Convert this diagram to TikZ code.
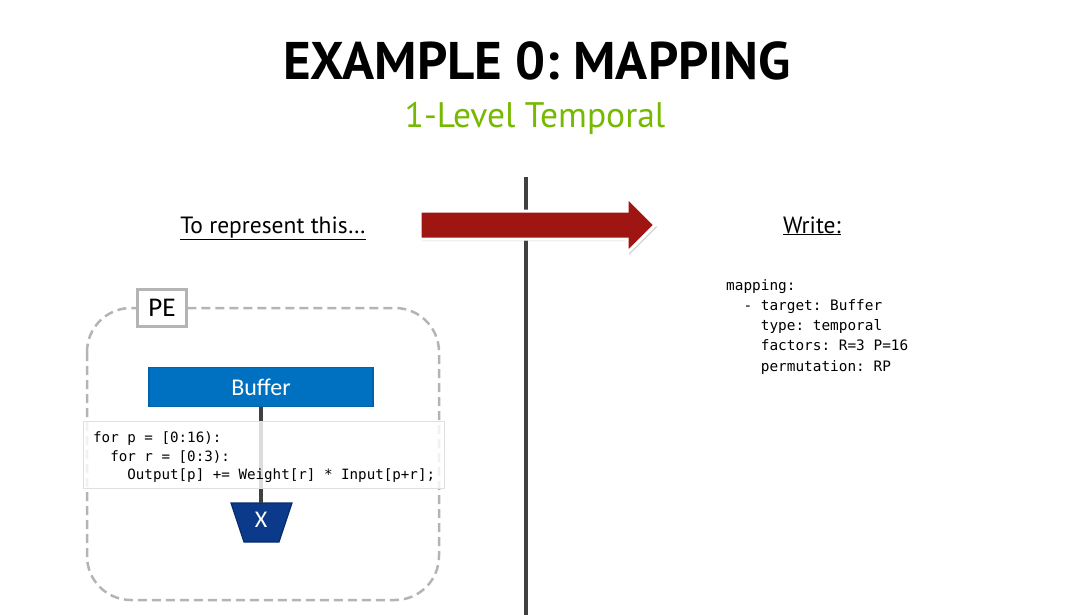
\documentclass[tikz,border=0pt]{standalone}
\usepackage{fontspec}
\setmainfont{PT Sans}
\newfontfamily\calfont{Carlito}
\newfontfamily\codefont{DejaVu Sans Mono}
\usetikzlibrary{shadows}
\frenchspacing
\definecolor{nvgreen}{HTML}{76B900}
\definecolor{arrowred}{HTML}{9E1512}
\definecolor{bufblue}{HTML}{0070C0}
\definecolor{bufedge}{HTML}{0062A8}
\definecolor{xblue}{HTML}{0B3A8A}
\definecolor{xedge}{HTML}{082C6A}
\definecolor{dashgray}{HTML}{B4B4B4}
\definecolor{linegray}{HTML}{404040}
\tikzset{
  codeline/.style={anchor=base west, inner sep=0pt, font=\codefont\fontsize{14.2}{18}\selectfont},
  rcodeline/.style={anchor=base west, inner sep=0pt, font=\codefont\fontsize{14.4}{18}\selectfont},
  heading/.style={anchor=base, inner sep=0pt, font=\fontsize{23.5}{27}\selectfont},
  wire/.style={draw=linegray, line width=4pt},
}
\begin{document}
\begin{tikzpicture}[x=1pt,y=-1pt]
\useasboundingbox (0,0) rectangle (1078,615);
% title
\node[anchor=base, inner sep=0pt, font=\bfseries\fontsize{53}{60}\selectfont] (title) at (537,80) {EXAMPLE 0: MAPPING};
\node[anchor=base, inner sep=0pt, text=nvgreen, font=\fontsize{35.5}{40}\selectfont] (subtitle) at (535,128) {1-Level Temporal};
% divider
\coordinate (vtop) at (526,177);
\coordinate (vbot) at (526,615);
\draw[wire] (vtop) -- (vbot);
% big arrow
\filldraw[fill=arrowred, draw=white, line width=3pt, line join=miter, drop shadow={shadow xshift=2pt, shadow yshift=-2pt, opacity=0.35}]
  (420,211) -- (627,211) -- (627,197) -- (655,225) -- (627,253) -- (627,239) -- (420,239) -- cycle;
% headings
\node[heading] (left) at (273,233) {\underline{To represent this…}};
\node[heading] (right) at (812,233) {\underline{Write:}};
% right code
\node[rcodeline] (m1) at (726,290) {mapping:};
\node[rcodeline] (m2) at (726,310) {\ \ - target: Buffer};
\node[rcodeline] (m3) at (726,330) {\ \ \ \ type: temporal};
\node[rcodeline] (m4) at (726,350) {\ \ \ \ factors: R=3 P=16};
\node[rcodeline] (m5) at (726,371) {\ \ \ \ permutation: RP};
% PE box
\draw[draw=dashgray, line width=2.5pt, dash pattern=on 9pt off 5pt, rounded corners=44pt] (87,308) rectangle (439,600);
\node[draw=dashgray, fill=white, line width=2.5pt, minimum width=49pt, minimum height=37pt, inner sep=0pt, font=\calfont\fontsize{27}{30}\selectfont] (pe) at (162,308) {PE};
% buffer
\node[draw=bufedge, fill=bufblue, line width=1.5pt, minimum width=224pt, minimum height=39pt, inner sep=0pt, text=white, font=\calfont\fontsize{24}{28}\selectfont] (buf) at (261,387) {Buffer};
% multiplier
\filldraw[fill=xblue, draw=xedge, line width=1.2pt] (231,503) -- (292,503) -- (279,542) -- (244,542) -- cycle;
\node[inner sep=0pt, text=white, font=\calfont\fontsize{24}{28}\selectfont] (xlab) at (261,520) {X};
\coordinate (xtop) at (261,503);
\draw[wire] (buf.south) -- (xtop);
% loop code box
\node[draw=black!12, fill=white, fill opacity=0.82, draw opacity=1, line width=1pt, minimum width=361pt, minimum height=67pt, inner sep=0pt] (codebox) at (263.5,454.5) {};
\node[codeline] (c1) at (93,442) {for p = [0:16):};
\node[codeline] (c2) at (93,461) {\ \ for r = [0:3):};
\node[codeline] (c3) at (93,479) {\ \ \ \ Output[p] += Weight[r] * Input[p+r];};
\end{tikzpicture}
\end{document}
